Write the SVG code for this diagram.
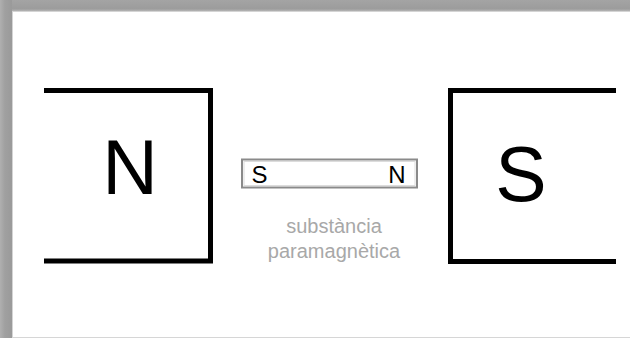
<svg xmlns="http://www.w3.org/2000/svg" width="630" height="338" viewBox="0 0 630 338">
  <defs>
    <linearGradient id="topFade" x1="0" y1="0" x2="0" y2="1">
      <stop offset="0" stop-color="#a4a4a4"/>
      <stop offset="0.8" stop-color="#9c9c9c"/>
      <stop offset="1" stop-color="#b4b4b4"/>
    </linearGradient>
    <linearGradient id="leftFade" x1="0" y1="0" x2="1" y2="0">
      <stop offset="0" stop-color="#b0b0b0"/>
      <stop offset="0.4" stop-color="#a0a0a0"/>
      <stop offset="1" stop-color="#9a9a9a"/>
    </linearGradient>
  </defs>
  <style>
    .magnet { fill: none; stroke: #000; stroke-width: 5; stroke-linejoin: miter; }
    .pole { font-family: "Liberation Sans", Arial, sans-serif; fill: #000; text-anchor: middle; }
    .big { font-size: 77px; }
    .small { font-size: 24px; }
    .label { font-family: "Liberation Sans", Arial, sans-serif; font-size: 20px; fill: #a8a8a8; text-anchor: middle; }
  </style>
  <rect x="0" y="0" width="630" height="338" fill="#ffffff"/>
  <g id="frame">
    <rect x="0" y="0" width="630" height="11" fill="url(#topFade)"/>
    <rect x="0" y="0" width="12" height="338" fill="url(#leftFade)"/>
    <line x1="12" y1="11.5" x2="630" y2="11.5" stroke="#d4d4d4" stroke-width="1"/>
    <line x1="12.5" y1="11" x2="12.5" y2="338" stroke="#d4d4d4" stroke-width="1"/>
    <line x1="12" y1="337.5" x2="630" y2="337.5" stroke="#d6d6d6" stroke-width="1"/>
  </g>
  <g id="magnet-north">
    <path class="magnet" d="M44,90.5 H210.5 V261 H44"/>
    <text class="pole big" x="130" y="194">N</text>
  </g>
  <g id="magnet-south">
    <path class="magnet" d="M616,90.5 H450.5 V261.5 H616"/>
    <text class="pole big" x="521" y="201">S</text>
  </g>
  <g id="paramagnetic-bar">
    <rect x="242" y="159.5" width="175" height="28" fill="#fff" stroke="#8a8a8a" stroke-width="2"/>
    <rect x="244" y="161.5" width="171" height="24" fill="none" stroke="#dcdcdc" stroke-width="1"/>
    <text class="pole small" x="259.5" y="183">S</text>
    <text class="pole small" x="397" y="183">N</text>
  </g>
  <g id="label">
    <text class="label" x="334" y="233">substància</text>
    <text class="label" x="334" y="258">paramagnètica</text>
  </g>
  <g id="connectors"/>
</svg>
